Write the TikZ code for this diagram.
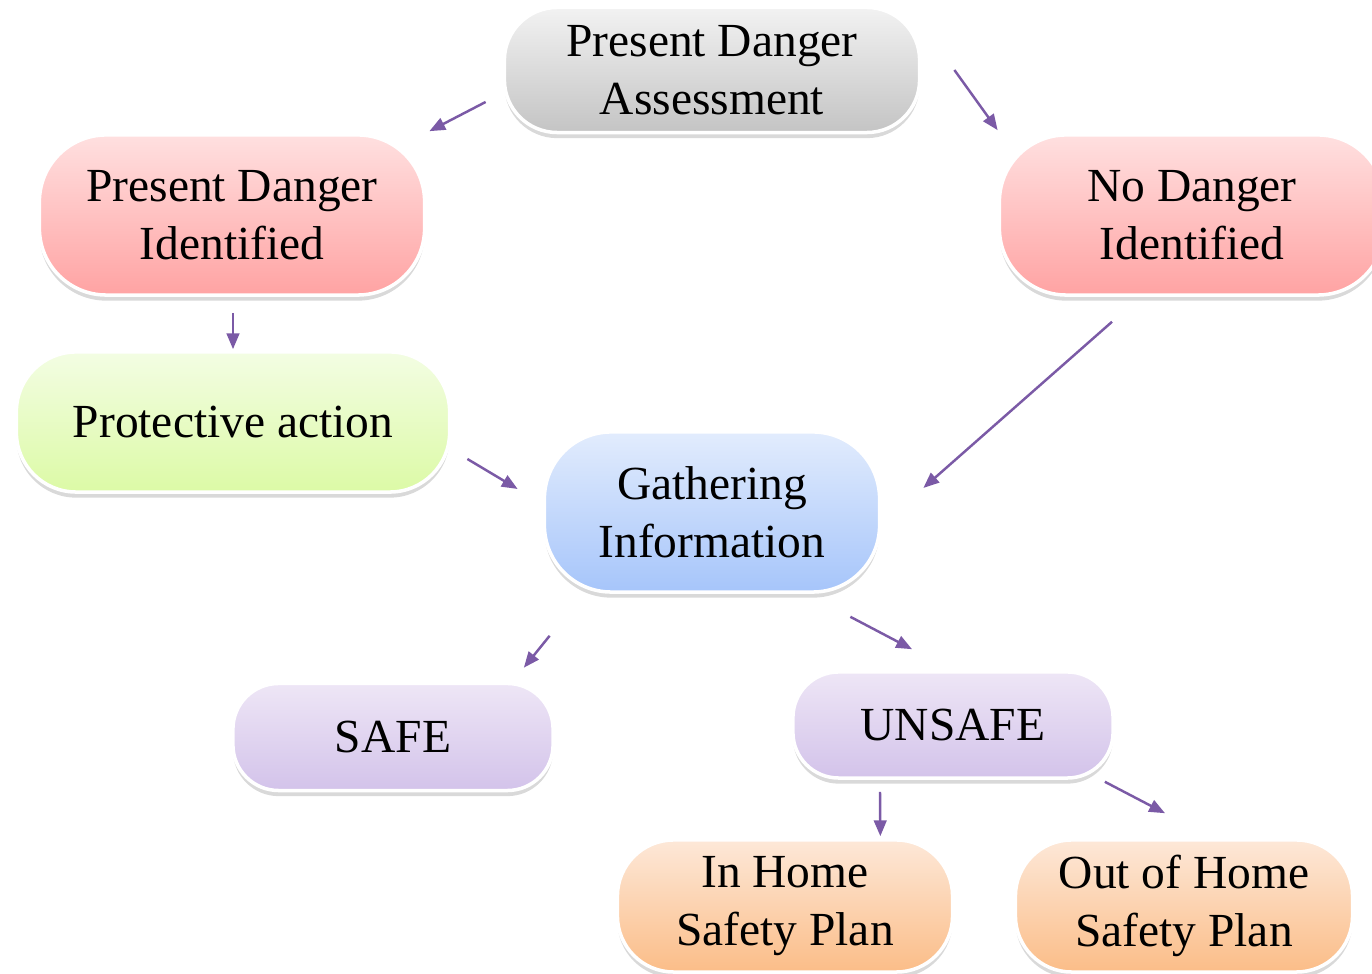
\documentclass[tikz,border=0pt]{standalone}
\usepackage{fontspec}
\setmainfont{Liberation Serif}
\usetikzlibrary{arrows.meta,shadows}
\definecolor{arrcol}{HTML}{7B5AA6}
\definecolor{greyT}{HTML}{F2F2F2}\definecolor{greyB}{HTML}{C4C4C4}
\definecolor{redT}{HTML}{FFE0E0}\definecolor{redB}{HTML}{FFA3A3}
\definecolor{grnT}{HTML}{F3FDE3}\definecolor{grnB}{HTML}{DCFAA6}
\definecolor{bluT}{HTML}{E2ECFD}\definecolor{bluB}{HTML}{A6C5FA}
\definecolor{purT}{HTML}{EEE6F6}\definecolor{purB}{HTML}{D3C3EA}
\definecolor{orgT}{HTML}{FDE8D8}\definecolor{orgB}{HTML}{FBBD88}
\begin{document}
\begin{tikzpicture}[
    x = 0.01cm, y = -0.01cm,
    box/.style = {rectangle, rounded corners=#1, draw=white, line width=1pt,
                  align=center, inner sep=0pt,
                  font=\fontsize{13.5}{16.5}\selectfont,
                  drop shadow={shadow xshift=0pt, shadow yshift=-1.6pt, opacity=.3}},
    box/.default = 16pt,
    grey/.style = {box=#1, top color=greyT, bottom color=greyB},
    red/.style  = {box=#1, top color=redT, bottom color=redB},
    grn/.style  = {box=#1, top color=grnT, bottom color=grnB},
    blu/.style  = {box=#1, top color=bluT, bottom color=bluB},
    pur/.style  = {box=#1, top color=purT, bottom color=purB},
    org/.style  = {box=#1, top color=orgT, bottom color=orgB},
    arr/.style  = {draw=arrcol, line width=.7pt, -{Triangle[length=4.5pt,width=3.6pt]}},
  ]
  \useasboundingbox (0,0) rectangle (1372,974);
  % boxes
  \node[grey=15pt, minimum width=4.15cm, minimum height=1.25cm] (pda) at (712,70) {Present Danger\\Assessment};
  \node[red=19pt, minimum width=3.85cm, minimum height=1.6cm] (pdi) at (232,215) {Present Danger\\Identified};
  \node[red=19pt, minimum width=3.85cm, minimum height=1.6cm] (ndi) at (1192,215) {No Danger\\Identified};
  \node[grn=17pt, minimum width=4.33cm, minimum height=1.4cm] (pra) at (233,422) {Protective action};
  \node[blu=19pt, minimum width=3.35cm, minimum height=1.6cm] (gat) at (712,512) {Gathering\\Information};
  \node[pur=13pt, minimum width=3.2cm, minimum height=1.07cm] (safe) at (393,737) {SAFE};
  \node[pur=13pt, minimum width=3.2cm, minimum height=1.06cm] (unsafe) at (953,725) {UNSAFE};
  \node[org=16pt, minimum width=3.35cm, minimum height=1.32cm] (inhome) at (785,906) {In Home\\Safety Plan};
  \node[org=16pt, minimum width=3.37cm, minimum height=1.32cm] (outhome) at (1184,906) {Out of Home\\Safety Plan};
  % arrows
  \draw[arr] ([shift={(-17,32)}]pda.west) -- ([shift={(3,-2)}]pdi.north east);
  \draw[arr] ([shift={(33,0)}]pda.east) -- ([shift={(0,-3)}]ndi.north west);
  \draw[arr] ([shift={(1,16)}]pdi.south) -- ([shift={(0,-1)}]pra.north);
  \draw[arr] ([shift={(16,37)}]pra.east) -- ([shift={(-25,-23)}]gat.west);
  \draw[arr] ([shift={(-80,25)}]ndi.south) -- ([shift={(42,-24)}]gat.east);
  \draw[arr] ([shift={(7,42)}]gat.south west) -- ([shift={(-31,-14)}]safe.north east);
  \draw[arr] ([shift={(-31,23)}]gat.south east) -- ([shift={(-41,-21)}]unsafe.north);
  \draw[arr] ([shift={(-73,12)}]unsafe.south) -- ([shift={(-74,-2)}]inhome.north east);
  \draw[arr] ([shift={(-10,2)}]unsafe.south east) -- ([shift={(-19,-25)}]outhome.north);
\end{tikzpicture}
\end{document}
